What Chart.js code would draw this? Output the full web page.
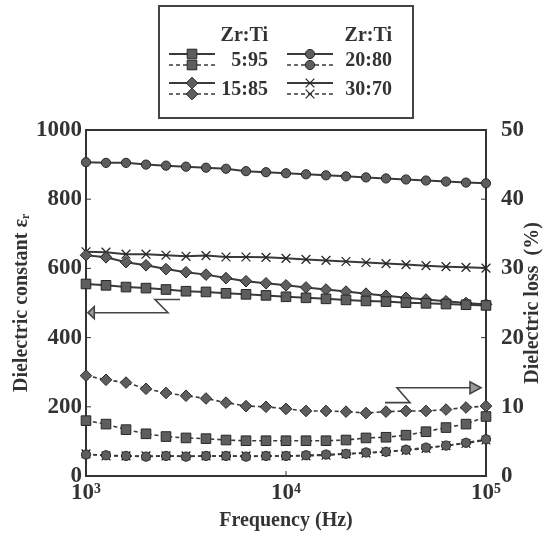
<!DOCTYPE html>
<html>
<head>
<meta charset="utf-8">
<script src="https://cdn.jsdelivr.net/npm/chart.js@4.4.1/dist/chart.umd.min.js"></script>
<style>
    html, body { margin: 0; padding: 0; background: #ffffff; }
    #contenedor { width: 556px; height: 539px; }
</style>
</head>
<body>
<div id="contenedor">
    <canvas id="grafica" width="556" height="539"></canvas>
</div>
<script>
// frecuencias de medición (Hz)
const frecuencias = [1000, 1259, 1585, 1995, 2512, 3162, 3981, 5012, 6310, 7943,
    10000, 12589, 15849, 19953, 25119, 31623, 39811, 50119, 63096, 79433, 100000];

const composiciones = ['5:95', '15:85', '20:80', '30:70'];

// constante dieléctrica (eje izquierdo)
const constante_5_95 = [555, 551, 546, 543, 539, 534, 532, 528, 525, 522, 518,
    515, 512, 509, 506, 504, 501, 499, 497, 495, 493];
const constante_15_85 = [638, 632, 618, 609, 598, 589, 582, 572, 563, 557, 551,
    545, 539, 533, 527, 521, 515, 510, 505, 500, 496];
const constante_20_80 = [907, 905, 905, 900, 897, 894, 891, 888, 881, 878, 875,
    872, 869, 866, 863, 860, 857, 854, 851, 848, 846];
const constante_30_70 = [648, 647, 641, 641, 638, 635, 637, 633, 633, 632, 629,
    626, 623, 620, 617, 614, 611, 608, 605, 603, 601];

// pérdida dieléctrica en % (eje derecho)
const perdida_5_95 = [8.0, 7.5, 6.7, 6.1, 5.7, 5.5, 5.4, 5.2, 5.1, 5.1, 5.1,
    5.1, 5.1, 5.2, 5.5, 5.6, 5.9, 6.4, 7.0, 7.5, 8.6];
const perdida_15_85 = [14.5, 13.9, 13.5, 12.6, 12.0, 11.6, 11.2, 10.6, 10.1, 10.0, 9.7,
    9.4, 9.4, 9.3, 9.1, 9.3, 9.4, 9.4, 9.6, 9.9, 10.1];
const perdida_20_80 = [3.1, 3.0, 2.9, 2.8, 2.9, 2.8, 2.9, 2.9, 2.8, 2.9, 2.9,
    3.0, 3.1, 3.2, 3.4, 3.5, 3.8, 4.1, 4.4, 4.8, 5.3];
const perdida_30_70 = [3.2, 2.9, 2.9, 2.9, 2.9, 2.9, 2.9, 2.9, 2.9, 2.9, 2.9,
    2.9, 3.0, 3.2, 3.3, 3.5, 3.7, 4.0, 4.4, 4.7, 5.2];

const ticksX = [1000, 10000, 100000];
const etiquetasX = ['10³', '10⁴', '10⁵'];

const constantes = [constante_5_95, constante_15_85, constante_20_80, constante_30_70];
const perdidas = [perdida_5_95, perdida_15_85, perdida_20_80, perdida_30_70];

const marcadores = [
    { pointStyle: 'rect', radius: 6.8 },
    { pointStyle: 'rectRot', radius: 5.8 },
    { pointStyle: 'circle', radius: 4.6 },
    { pointStyle: 'crossRot', radius: 6.2 }
];

const fuente = '"Liberation Serif", "DejaVu Serif", serif';
const tinta = '#333333';

function puntos(valores) {
    return frecuencias.map((f, i) => ({ x: f, y: valores[i] }));
}

function serie(valores, m, eje, punteada) {
    return {
        data: puntos(valores),
        yAxisID: eje,
        borderColor: '#3a3a3a',
        borderWidth: punteada ? 1.6 : 2,
        borderDash: punteada ? [4, 3] : [],
        pointStyle: m.pointStyle,
        pointRadius: m.radius,
        pointBackgroundColor: '#5e5e5e',
        pointBorderColor: '#262626',
        pointBorderWidth: m.pointStyle === 'crossRot' ? 1.3 : 1,
        tension: 0,
        clip: false
    };
}

const datasets = [];
composiciones.forEach((c, i) => {
    datasets.push(serie(constantes[i], marcadores[i], 'y', false));
    datasets.push(serie(perdidas[i], marcadores[i], 'y1', true));
});

// flechas que indican a qué eje pertenece cada grupo de curvas
const flechas = [
    { eje: 'y', x: [2951, 2213, 2570, 1100], y: [510, 510, 472, 472], punta: 1023 },
    { eje: 'y1', x: [31260, 41690, 35890, 83180], y: [10.6, 10.6, 12.75, 12.75], punta: 94400 }
];

function dibujarPunto(ctx, m, x, y) {
    ctx.fillStyle = '#5e5e5e';
    ctx.strokeStyle = '#262626';
    ctx.lineWidth = m.pointStyle === 'crossRot' ? 1.3 : 1;
    Chart.helpers.drawPoint(ctx, {
        pointStyle: m.pointStyle,
        radius: m.radius,
        rotation: 0,
        borderWidth: ctx.lineWidth
    }, x, y);
}

const marco = {
    id: 'marco',
    beforeDatasetsDraw(chart) {
        const { ctx, chartArea: a, scales } = chart;
        ctx.save();
        ctx.strokeStyle = tinta;
        ctx.lineWidth = 2;
        ctx.strokeRect(a.left, a.top, a.right - a.left, a.bottom - a.top);

        // marcas hacia adentro
        ctx.lineWidth = 1;
        scales.y.ticks.forEach(t => {
            const py = scales.y.getPixelForValue(t.value);
            ctx.beginPath(); ctx.moveTo(a.left, py); ctx.lineTo(a.left + 5, py); ctx.stroke();
        });
        scales.y1.ticks.forEach(t => {
            const py = scales.y1.getPixelForValue(t.value);
            ctx.beginPath(); ctx.moveTo(a.right, py); ctx.lineTo(a.right - 5, py); ctx.stroke();
        });
        const px = scales.x.getPixelForValue(10000);
        ctx.beginPath(); ctx.moveTo(px, a.bottom); ctx.lineTo(px, a.bottom - 5); ctx.stroke();

        // flechas
        flechas.forEach(f => {
            const sy = scales[f.eje];
            const xs = f.x.map(v => scales.x.getPixelForValue(v));
            const ys = f.y.map(v => sy.getPixelForValue(v));
            ctx.strokeStyle = '#444';
            ctx.lineWidth = 1.6;
            ctx.beginPath();
            ctx.moveTo(xs[0], ys[0]);
            for (let i = 1; i < xs.length; i++) ctx.lineTo(xs[i], ys[i]);
            ctx.stroke();
            const tx = scales.x.getPixelForValue(f.punta);
            const ty = ys[ys.length - 1];
            const bx = xs[xs.length - 1];
            ctx.fillStyle = '#9a9a9a';
            ctx.beginPath();
            ctx.moveTo(tx, ty);
            ctx.lineTo(bx, ty - 6);
            ctx.lineTo(bx, ty + 6);
            ctx.closePath();
            ctx.fill();
            ctx.stroke();
        });

        // título del eje derecho, leído de abajo hacia arriba como el izquierdo
        ctx.translate(533, (a.top + a.bottom) / 2);
        ctx.rotate(-Math.PI / 2);
        ctx.font = 'bold 20px ' + fuente;
        ctx.fillStyle = tinta;
        ctx.textAlign = 'center';
        ctx.textBaseline = 'middle';
        ctx.fillText('Dielectric loss  (%)', 0, 0);
        ctx.restore();
    },
    afterDraw(chart) {
        const ctx = chart.ctx;
        ctx.save();
        ctx.strokeStyle = '#444';
        ctx.lineWidth = 2;
        ctx.strokeRect(159, 6, 254, 112);

        ctx.font = 'bold 20px ' + fuente;
        ctx.fillStyle = tinta;
        ctx.textAlign = 'right';
        ctx.textBaseline = 'middle';
        ctx.fillText('Zr:Ti', 268, 36);
        ctx.fillText('Zr:Ti', 392, 36);

        const columnas = [{ x0: 169, xt: 268 }, { x0: 287, xt: 392 }];
        const filas = [61, 90];
        composiciones.forEach((c, i) => {
            const col = columnas[Math.floor(i / 2)];
            const fy = filas[i % 2];
            const cx = col.x0 + 23;
            ctx.strokeStyle = '#3a3a3a';
            ctx.lineWidth = 2;
            ctx.setLineDash([]);
            ctx.beginPath(); ctx.moveTo(col.x0, fy - 7); ctx.lineTo(col.x0 + 46, fy - 7); ctx.stroke();
            ctx.lineWidth = 1.6;
            ctx.setLineDash([4, 3]);
            ctx.beginPath(); ctx.moveTo(col.x0, fy + 4); ctx.lineTo(col.x0 + 46, fy + 4); ctx.stroke();
            ctx.setLineDash([]);
            dibujarPunto(ctx, marcadores[i], cx, fy - 7);
            dibujarPunto(ctx, marcadores[i], cx, fy + 4);
            ctx.fillStyle = tinta;
            ctx.fillText(c, col.xt, fy);
        });
        ctx.restore();
    }
};

new Chart(document.getElementById('grafica'), {
    type: 'line',
    data: { datasets: datasets },
    plugins: [marco],
    options: {
        responsive: false,
        animation: false,
        events: [],
        layout: { padding: { top: 130, left: 0, right: 0, bottom: 0 } },
        plugins: {
            legend: { display: false },
            tooltip: { enabled: false }
        },
        scales: {
            x: {
                type: 'logarithmic',
                position: 'bottom',
                min: 1000,
                max: 100000,
                grid: { display: false, drawTicks: false },
                border: { display: false },
                afterBuildTicks: s => { s.ticks = ticksX.map(v => ({ value: v })); },
                afterFit: s => { s.height = 63; },
                ticks: {
                    autoSkip: false,
                    maxRotation: 0,
                    padding: 3,
                    color: tinta,
                    font: { family: fuente, size: 23, weight: 'bold' },
                    callback: v => etiquetasX[ticksX.indexOf(v)]
                },
                title: {
                    display: true,
                    text: 'Frequency (Hz)',
                    color: tinta,
                    font: { family: fuente, size: 20, weight: 'bold' },
                    padding: { top: 0, bottom: 6 }
                }
            },
            y: {
                position: 'left',
                min: 0,
                max: 1000,
                grid: { display: false, drawTicks: false },
                border: { display: false },
                afterFit: s => { s.width = 86; },
                ticks: {
                    stepSize: 200,
                    padding: 4,
                    color: tinta,
                    font: { family: fuente, size: 23, weight: 'bold' },
                    callback: v => String(v)
                },
                title: {
                    display: true,
                    text: 'Dielectric constant εᵣ',
                    color: tinta,
                    font: { family: fuente, size: 20, weight: 'bold' },
                    padding: { top: 10, bottom: 0 }
                }
            },
            y1: {
                position: 'right',
                min: 0,
                max: 50,
                grid: { display: false, drawTicks: false },
                border: { display: false },
                afterFit: s => { s.width = 70; },
                ticks: {
                    stepSize: 10,
                    padding: 15,
                    color: tinta,
                    font: { family: fuente, size: 23, weight: 'bold' },
                    callback: v => String(v)
                }
            }
        }
    }
});
</script>
</body>
</html>
